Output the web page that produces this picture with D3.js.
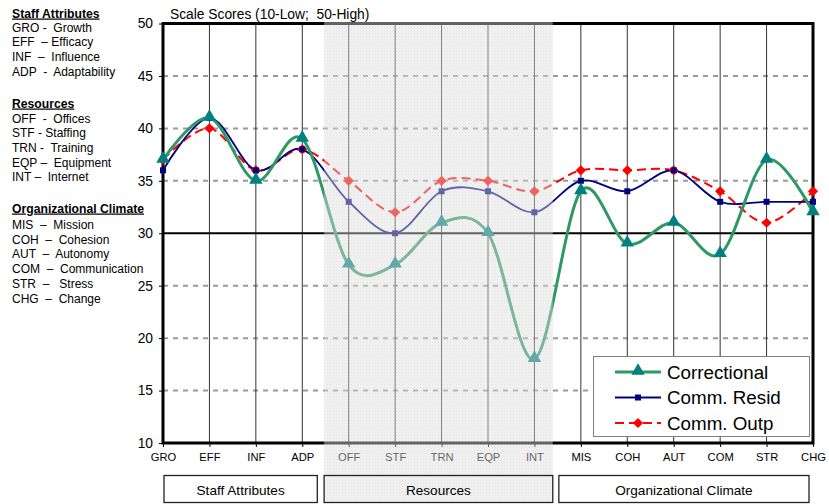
<!DOCTYPE html>
<html>
<head>
<meta charset="utf-8">
<script src="https://cdn.jsdelivr.net/npm/d3@7"></script>
<style>
  html, body { margin: 0; padding: 0; background: #fff; }
  svg { display: block; font-family: "Liberation Sans", Arial, sans-serif; }
  text { white-space: pre; }
</style>
</head>
<body>
<svg id="chart" width="829" height="504"></svg>
<script>
// ---------------- DATA ----------------
const categories = ["GRO","EFF","INF","ADP","OFF","STF","TRN","EQP","INT","MIS","COH","AUT","COM","STR","CHG"];
const correctional = [37,41,35,39,27,27,31,30,18,34,29,31,28,37,32];
const commResid    = [36,41,36,38,33,30,34,34,32,35,34,36,33,33,33];
const commOutp     = [37,40,36,38,35,32,35,35,34,36,36,36,34,31,34];
const seriesNames  = ["Correctional","Comm. Resid","Comm. Outp"];
const yTicks       = [10,15,20,25,30,35,40,45,50];
const groupNames   = ["Staff Attributes","Resources","Organizational Climate"];
const chartTitle   = "Scale Scores (10-Low;  50-High)";
const glossaryTitles = ["Staff Attributes","Resources","Organizational Climate"];
const glossaryRows = [
  ["GRO -  Growth","EFF  – Efficacy","INF  –  Influence","ADP  -  Adaptability"],
  ["OFF  -  Offices","STF - Staffing","TRN -  Training","EQP –  Equipment","INT –  Internet"],
  ["MIS  –  Mission","COH  –  Cohesion","AUT  –  Autonomy","COM  –  Communication","STR  –   Stress","CHG  –  Change"]
];

// ---------------- LAYOUT ----------------
const svg = d3.select("#chart");
const L = 163, R = 813, T = 23.5, B = 443;
const x = d3.scalePoint().domain(categories).range([L, R]);
const y = d3.scaleLinear().domain([10, 50]).range([B, T]);
const step = x.step();

const defs = svg.append("defs");
const pat = defs.append("pattern").attr("id","dots").attr("width",3).attr("height",3)
  .attr("patternUnits","userSpaceOnUse");
pat.append("rect").attr("width",3).attr("height",3).attr("fill","#e0e0e0");
pat.append("rect").attr("x",0).attr("y",0).attr("width",1).attr("height",1).attr("fill","#c4c4c4");
pat.append("rect").attr("x",1.5).attr("y",1.5).attr("width",1).attr("height",1).attr("fill","#cdcdcd");

svg.append("rect").attr("width",829).attr("height",504).attr("fill","#fff");

// horizontal dashed gridlines
svg.append("g").selectAll("line")
  .data(yTicks.filter(v => v !== 10 && v !== 50 && v !== 30))
  .join("line")
  .attr("x1", L).attr("x2", R)
  .attr("y1", d => y(d)).attr("y2", d => y(d))
  .attr("stroke", "#9a9a9a").attr("stroke-width", 2).attr("stroke-dasharray", "5,5");

// vertical gridlines
svg.append("g").selectAll("line")
  .data(categories.slice(1, -1))
  .join("line")
  .attr("x1", d => x(d)).attr("x2", d => x(d))
  .attr("y1", T).attr("y2", B)
  .attr("stroke", "#333").attr("stroke-width", 1);

// reference line at 30
svg.append("line").attr("x1", L).attr("x2", R).attr("y1", y(30)).attr("y2", y(30))
  .attr("stroke", "#000").attr("stroke-width", 2);

// axes
const yAxis = svg.append("g").attr("transform", `translate(${L},0)`)
  .call(d3.axisLeft(y).tickValues(yTicks).tickSize(4).tickPadding(6));
yAxis.select(".domain").remove();
yAxis.selectAll("text").attr("font-size", 13.8).attr("fill", "#000")
  .attr("font-family", "Liberation Sans, Arial, sans-serif");
yAxis.selectAll("line").attr("stroke", "#000");

const xAxis = svg.append("g").attr("transform", `translate(0,${B})`)
  .call(d3.axisBottom(x).tickSize(4).tickPadding(6));
xAxis.select(".domain").remove();
xAxis.selectAll("text").attr("font-size", 11.2).attr("fill", "#000")
  .attr("font-family", "Liberation Sans, Arial, sans-serif");
xAxis.selectAll("line").attr("stroke", "#000");

// frame
svg.append("rect").attr("x", L).attr("y", T).attr("width", R - L).attr("height", B - T)
  .attr("fill", "none").attr("stroke", "#000").attr("stroke-width", 3);

// series
const curve = d3.curveCardinal.tension(0);
const line = d3.line().x((d, i) => x(categories[i])).y(d => y(d)).curve(curve);

svg.append("path").datum(commOutp).attr("d", line).attr("fill", "none")
  .attr("stroke", "#ff0000").attr("stroke-width", 2).attr("stroke-dasharray", "9,5");
svg.append("path").datum(commResid).attr("d", line).attr("fill", "none")
  .attr("stroke", "#000080").attr("stroke-width", 1.8);
svg.append("path").datum(correctional).attr("d", line).attr("fill", "none")
  .attr("stroke", "#2f9966").attr("stroke-width", 3);

const tri = d3.symbol().type(d3.symbolTriangle).size(78)();
const sq = d3.symbol().type(d3.symbolSquare).size(36)();
const dia = d3.symbol().type(d3.symbolSquare).size(52)();

svg.append("g").selectAll("path").data(commOutp).join("path")
  .attr("d", dia).attr("fill", "#ff0000")
  .attr("transform", (d, i) => `translate(${x(categories[i])},${y(d)}) rotate(45)`);
svg.append("g").selectAll("path").data(commResid).join("path")
  .attr("d", sq).attr("fill", "#000080")
  .attr("transform", (d, i) => `translate(${x(categories[i])},${y(d)})`);
svg.append("g").selectAll("path").data(correctional).join("path")
  .attr("d", tri).attr("fill", "#008080")
  .attr("transform", (d, i) => `translate(${x(categories[i])},${y(d) - 1})`);

// shaded Resources band (drawn over the lines)
const shadeL = x("ADP") + step * 0.47;
const shadeR = x("INT") + step * 0.395;
svg.append("rect").attr("x", shadeL).attr("y", T - 1.5).attr("width", shadeR - shadeL)
  .attr("height", 503 - (T - 1.5)).attr("fill", "url(#dots)").attr("opacity", 0.45);

// group boxes
const boxL = [x("GRO") + 1, shadeL, x("MIS") - 22];
const boxR = [x("ADP") + 15, shadeR, x("CHG") - 4];
groupNames.forEach((g, i) => {
  svg.append("rect").attr("x", boxL[i]).attr("y", 475.5).attr("width", boxR[i] - boxL[i])
    .attr("height", 27).attr("fill", "none").attr("stroke", "#222").attr("stroke-width", 1.3);
  svg.append("text").attr("x", (boxL[i] + boxR[i]) / 2).attr("y", 494.5)
    .attr("text-anchor", "middle").attr("font-size", 13.6).attr("fill", "#000").text(g);
});

// title
svg.append("text").attr("x", 170).attr("y", 18.5).attr("font-size", 13.8).attr("fill", "#000").text(chartTitle);

// legend
const lg = svg.append("g");
lg.append("rect").attr("x", 593.5).attr("y", 356.5).attr("width", 216).attr("height", 80)
  .attr("fill", "#fff").attr("stroke", "#808080").attr("stroke-width", 1);
const rowsY = [372, 397.5, 423];
const lgColors = ["#2f9966", "#000080", "#ff0000"];
const lgWidths = [3, 1.8, 2];
const lgDash = [null, null, "9,5"];
const lgSyms = [tri, sq, dia];
const lgFill = ["#008080", "#000080", "#ff0000"];
seriesNames.forEach((s, i) => {
  lg.append("line").attr("x1", 615).attr("x2", 661).attr("y1", rowsY[i]).attr("y2", rowsY[i])
    .attr("stroke", lgColors[i]).attr("stroke-width", lgWidths[i])
    .attr("stroke-dasharray", lgDash[i]);
  lg.append("path").attr("d", lgSyms[i]).attr("fill", lgFill[i])
    .attr("transform", `translate(638,${rowsY[i] - (i === 0 ? 1 : 0)})${i === 2 ? " rotate(45)" : ""}`);
  lg.append("text").attr("x", 667).attr("y", rowsY[i] + 6.5).attr("font-size", 18.8)
    .attr("fill", "#000").text(s);
});

// glossary
const titleY = [17.5, 107.5, 212.5];
const rowStart = [31.5, 122.5, 229];
const rowStep = 14.7;
glossaryTitles.forEach((t, i) => {
  svg.append("text").attr("x", 12).attr("y", titleY[i]).attr("font-size", 12.2)
    .attr("font-weight", "bold").attr("text-decoration", "underline").attr("fill", "#000").text(t);
  glossaryRows[i].forEach((r, j) => {
    svg.append("text").attr("x", 12).attr("y", rowStart[i] + j * rowStep).attr("font-size", 12)
      .attr("fill", "#000").text(r);
  });
});
</script>
</body>
</html>
